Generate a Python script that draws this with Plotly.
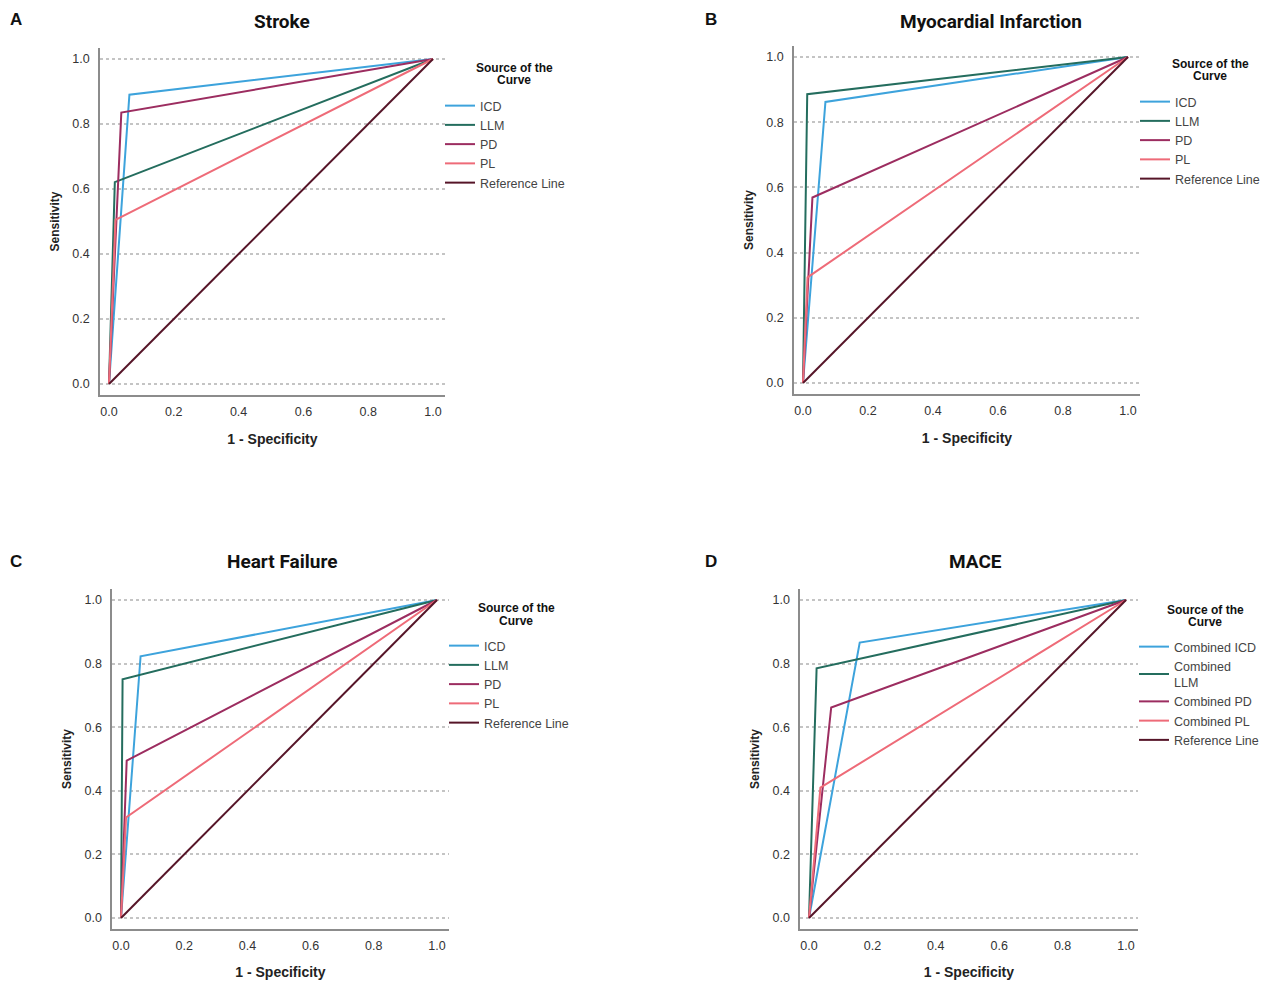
import plotly.graph_objects as go

# ROC points (1 - specificity, sensitivity) per panel
SOURCES = ["ICD", "LLM", "PD", "PL"]
COLORS = {
    "ICD": "#3da3dc",
    "LLM": "#246d5e",
    "PD": "#9c2d60",
    "PL": "#ee6b78",
    "Reference Line": "#561528",
}

stroke_x = {"ICD": [0, 0.063, 1], "LLM": [0, 0.018, 1], "PD": [0, 0.038, 1], "PL": [0, 0.02, 1]}
stroke_y = {"ICD": [0, 0.89, 1], "LLM": [0, 0.621, 1], "PD": [0, 0.835, 1], "PL": [0, 0.505, 1]}

mi_x = {"ICD": [0, 0.069, 1], "LLM": [0, 0.013, 1], "PD": [0, 0.029, 1], "PL": [0, 0.014, 1]}
mi_y = {"ICD": [0, 0.862, 1], "LLM": [0, 0.886, 1], "PD": [0, 0.569, 1], "PL": [0, 0.324, 1]}

hf_x = {"ICD": [0, 0.062, 1], "LLM": [0, 0.005, 1], "PD": [0, 0.018, 1], "PL": [0, 0.016, 1]}
hf_y = {"ICD": [0, 0.823, 1], "LLM": [0, 0.751, 1], "PD": [0, 0.495, 1], "PL": [0, 0.316, 1]}

mace_x = {"ICD": [0, 0.16, 1], "LLM": [0, 0.024, 1], "PD": [0, 0.07, 1], "PL": [0, 0.036, 1]}
mace_y = {"ICD": [0, 0.866, 1], "LLM": [0, 0.785, 1], "PD": [0, 0.662, 1], "PL": [0, 0.41, 1]}

ref_xy = [0, 1]

tick_vals = [0.0, 0.2, 0.4, 0.6, 0.8, 1.0]
tick_text = ["0.0", "0.2", "0.4", "0.6", "0.8", "1.0"]

# page body adds an 8px margin, so work in screen pixels and shift back
PAD = 8
W, H = 1280 - PAD, 983 - PAD
X_RANGE = [-0.028, 1.037]
Y_RANGE = [-0.034, 1.034]
FONT = "Liberation Sans, Arial"


def px(x):
    return (x - PAD) / W


def py(y):
    return 1 - (y - PAD) / H


# letter, title, data, label prefix,
# (x at 0, x at 1, y at 1, y at 0), title pos (centre x, top y), letter pos (left x, top y),
# legend (text x, first item y), legend title (centre x, first line y, second line y)
panels = [
    ("A", "Stroke", stroke_x, stroke_y, "", (109, 433, 59, 384), (282, 8), (8, 8), (480, 104), (514, 68, 80)),
    ("B", "Myocardial Infarction", mi_x, mi_y, "", (803, 1128, 57, 383), (991, 8), (703, 8), (1175, 100), (1210, 64, 76)),
    ("C", "Heart Failure", hf_x, hf_y, "", (121, 437, 600, 918), (282, 548), (8, 550), (484, 644), (516, 608, 621)),
    ("D", "MACE", mace_x, mace_y, "Combined ", (809, 1126, 600, 918), (975, 548), (703, 550), (1174, 645), (1205, 610, 622)),
]

fig = go.Figure()
annotations = []
layout = {}

for i, (letter, title, xs, ys, prefix, box, tpos, lpos, legpos, legtitle) in enumerate(panels):
    n = "" if i == 0 else str(i + 1)
    leg = "legend" if i == 0 else "legend%d" % (i + 1)
    for src in SOURCES:
        label = prefix + src
        if src == "LLM" and prefix:
            label = "Combined<br>LLM"
        fig.add_trace(
            go.Scatter(
                x=xs[src], y=ys[src], mode="lines", name=label,
                line=dict(color=COLORS[src], width=2),
                xaxis="x" + n, yaxis="y" + n, legend=leg,
            )
        )
    fig.add_trace(
        go.Scatter(
            x=ref_xy, y=ref_xy, mode="lines", name="Reference Line",
            line=dict(color=COLORS["Reference Line"], width=2),
            xaxis="x" + n, yaxis="y" + n, legend=leg,
        )
    )
    x0, x1, y1, y0 = box
    sx, sy = x1 - x0, y0 - y1
    left = x0 + X_RANGE[0] * sx
    right = x0 + X_RANGE[1] * sx
    top = y0 - Y_RANGE[1] * sy
    bottom = y0 - Y_RANGE[0] * sy
    common = dict(
        tickvals=tick_vals, ticktext=tick_text,
        showline=True, linecolor="#8c8c8c", linewidth=1.5,
        ticks="", zeroline=False,
        tickfont=dict(family=FONT, size=12.5, color="#333"),
    )
    layout["xaxis" + n] = dict(
        common, range=X_RANGE, domain=[px(left), px(right)], anchor="y" + n,
        showgrid=False, ticklabelstandoff=4,
        title=dict(text="<b>1 - Specificity</b>", standoff=16,
                   font=dict(family=FONT, size=14, color="#222")),
    )
    layout["yaxis" + n] = dict(
        common, range=Y_RANGE, domain=[py(bottom), py(top)], anchor="x" + n,
        showgrid=True, gridcolor="#c4c4c4", griddash="dot", gridwidth=1.5,
        ticklabelstandoff=6,
        title=dict(text="<b>Sensitivity</b>", standoff=10,
                   font=dict(family=FONT, size=12, color="#222")),
    )
    layout[leg] = dict(
        x=px(legpos[0] - 40), y=py(legpos[1] - 13), xanchor="left", yanchor="top",
        font=dict(family=FONT, size=12.5, color="#444"),
        bgcolor="rgba(0,0,0,0)", itemwidth=30, tracegroupgap=0,
    )
    for txt, ly in (("Source of the", legtitle[1]), ("Curve", legtitle[2])):
        annotations.append(dict(
            text="<b>%s</b>" % txt, x=px(legtitle[0]), y=py(ly),
            xref="paper", yref="paper", showarrow=False, xanchor="center", yanchor="middle",
            font=dict(family=FONT, size=12, color="#111"),
        ))
    annotations.append(dict(
        text="<b>%s</b>" % title, x=px(tpos[0]), y=py(tpos[1]),
        xref="paper", yref="paper", showarrow=False, xanchor="center", yanchor="top",
        font=dict(family="Roboto, Liberation Sans", size=19, color="#111"),
    ))
    annotations.append(dict(
        text="<b>%s</b>" % letter, x=px(lpos[0]), y=py(lpos[1]),
        xref="paper", yref="paper", showarrow=False, xanchor="left", yanchor="top",
        font=dict(family=FONT, size=17, color="#111"),
    ))

fig.update_layout(
    **layout,
    annotations=annotations,
    width=W, height=H,
    margin=dict(l=0, r=0, t=0, b=0),
    plot_bgcolor="white", paper_bgcolor="white",
    showlegend=True,
)

fig.write_html("out.html")
